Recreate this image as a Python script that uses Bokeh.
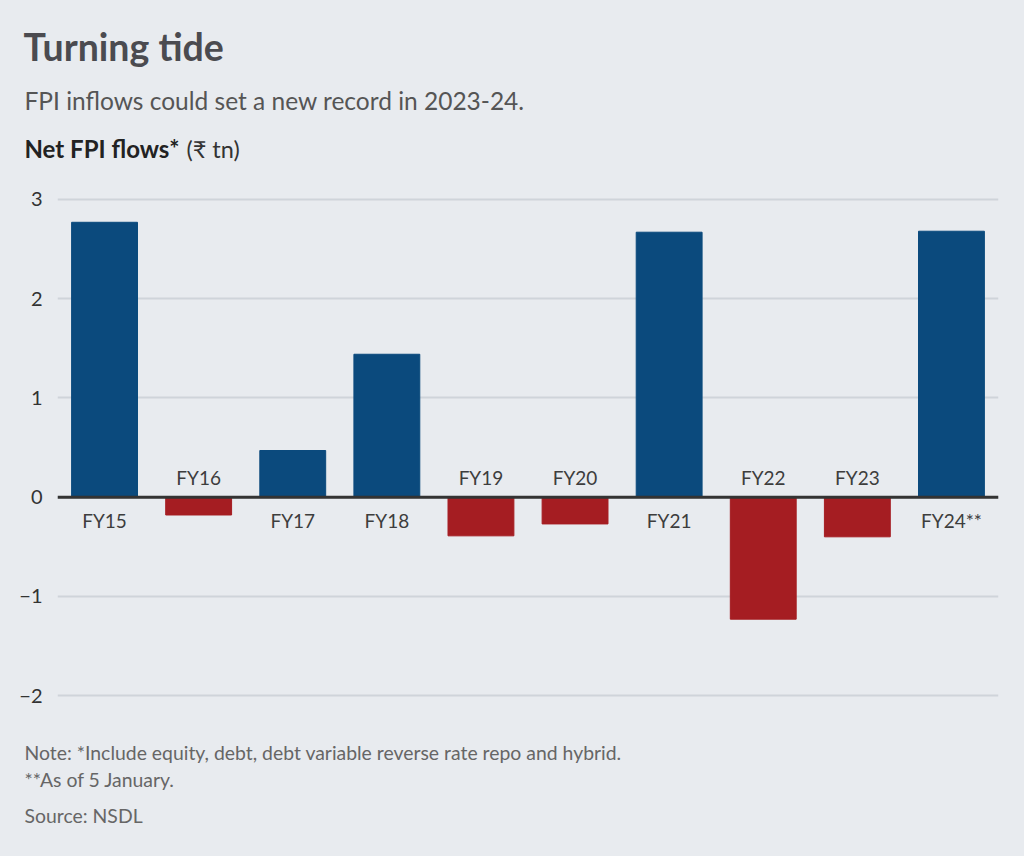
from bokeh.plotting import figure
from bokeh.layouts import column
from bokeh.models import Label, Span, FactorRange, Range1d, FixedTicker, ColumnDataSource
from bokeh.core.properties import value
from bokeh.embed import file_html
from bokeh.resources import INLINE

# ---- data ----
categories = ["FY15", "FY16", "FY17", "FY18", "FY19", "FY20", "FY21", "FY22", "FY23", "FY24**"]
flows = [2.77, -0.18, 0.47, 1.44, -0.39, -0.27, 2.67, -1.23, -0.40, 2.68]
y_ticks = [-2, -1, 0, 1, 2, 3]
y_tick_labels = {-2: "\u22122", -1: "\u22121", 0: "0", 1: "1", 2: "2", 3: "3"}

title_text = "Turning tide"
subtitle_text = "FPI inflows could set a new record in 2023-24."
ylabel_bold = "Net FPI flows*"
ylabel_rest = "(\u20b9 tn)"
note1 = "Note: *Include equity, debt, debt variable reverse rate repo and hybrid."
note2 = "**As of 5 January."
source_text = "Source: NSDL"

# ---- style ----
BG = "#e8ebef"
BLUE = "#0b4a7d"
RED = "#a51d22"
FONT = "Lato"

W, H = 1024, 856
FL, FR, FT = 57, 26, 185      # chart frame borders
FRAME_H = 520                 # chart frame height
PAD_B = 12                    # room below the chart frame for the lowest tick label
FOOT_TOP = FT + FRAME_H + PAD_B
FOOT_H = H - FOOT_TOP


def text_panel(height, top):
    f = figure(width=W, height=height, output_backend="svg", toolbar_location=None,
               x_range=Range1d(0, W), y_range=Range1d(top + height, top),
               min_border=0, min_border_left=0, min_border_right=0,
               min_border_top=0, min_border_bottom=0, frame_align=False,
               styles={"background-color": BG})
    f.axis.visible = False
    f.grid.visible = False
    f.outline_line_color = None
    f.background_fill_color = BG
    f.border_fill_color = BG
    return f


def add_text(f, txt, xc, yc, size, color, style="normal"):
    f.add_layout(Label(x=xc, y=yc, text=txt, text_font=FONT, text_font_size=size,
                       text_color=color, text_font_style=style,
                       text_baseline="middle", text_align="left"))


# header
head = text_panel(FT, 0)
add_text(head, title_text, 23, 46, "37.5px", "#4b4b50", "bold")
add_text(head, subtitle_text, 24, 100, "24.5px", "#555555")
add_text(head, ylabel_bold, 24, 148, "24px", "#222222", "bold")
add_text(head, ylabel_rest, 186, 148, "23.5px", "#333333")

# chart
colors = [BLUE if v >= 0 else RED for v in flows]
lab_offset = [23 if v >= 0 else -20 for v in flows]
src = ColumnDataSource(dict(cat=categories, val=flows, color=colors, off=lab_offset,
                            zero=[0] * len(flows)))

p = figure(x_range=FactorRange(*categories, range_padding=0),
           y_range=Range1d(-2.1, 3 + 14 / 99.4),
           width=W, height=FRAME_H + PAD_B, output_backend="svg", toolbar_location=None,
           min_border_left=FL, min_border_right=FR, min_border_top=0,
           min_border_bottom=PAD_B, frame_align=False,
           styles={"background-color": BG})

p.background_fill_color = BG
p.border_fill_color = BG
p.outline_line_color = None

p.vbar(x="cat", top="val", bottom=0, width=0.70, color="color", source=src)

p.text(x="cat", y="zero", text="cat", y_offset="off", source=src,
       text_align="center", text_baseline="middle",
       text_font=value(FONT), text_font_size="19px", text_color="#3d3d3d")

p.add_layout(Span(location=0, dimension="width", line_color="#333333", line_width=3))

p.xaxis.visible = False
p.xgrid.visible = False
p.ygrid.ticker = FixedTicker(ticks=y_ticks)
p.ygrid.grid_line_color = "#cfd4da"
p.ygrid.grid_line_width = 2

ya = p.yaxis[0]
ya.ticker = FixedTicker(ticks=y_ticks)
ya.major_label_overrides = y_tick_labels
ya.axis_line_color = None
ya.major_tick_line_color = None
ya.minor_tick_line_color = None
ya.major_label_standoff = 9
ya.major_label_text_font = FONT
ya.major_label_text_font_size = "20px"
ya.major_label_text_color = "#333333"

# footer
foot = text_panel(FOOT_H, FOOT_TOP)
add_text(foot, note1, 24, 752, "19.4px", "#666666")
add_text(foot, note2, 24, 779, "19.4px", "#666666")
add_text(foot, source_text, 24, 815, "19.4px", "#666666")

layout = column(head, p, foot, spacing=0, styles={"background-color": BG})
open("out.html", "w").write(file_html(layout, INLINE))
